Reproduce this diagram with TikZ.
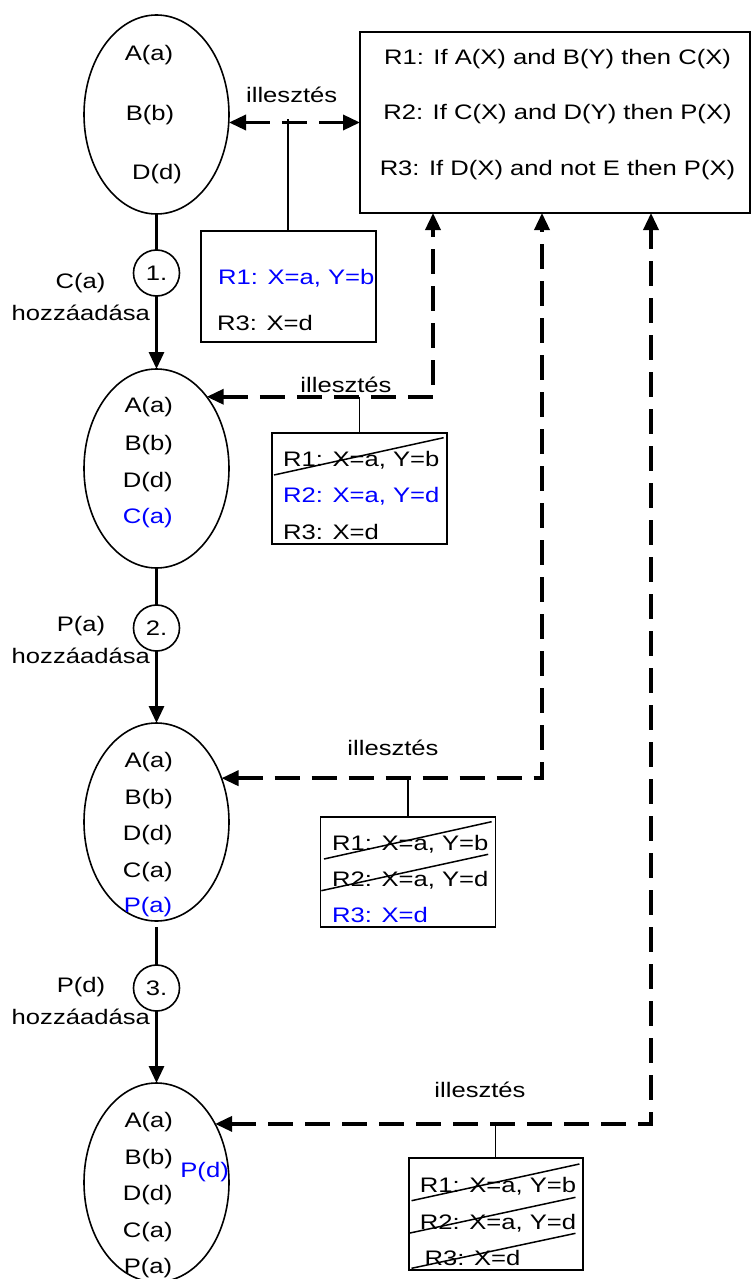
\documentclass[tikz,border=0pt]{standalone}
\usepackage{fontspec}
\setmainfont{Liberation Sans}[FakeStretch=1.22]
\usetikzlibrary{shapes.geometric,arrows.meta}
\begin{document}
\begin{tikzpicture}[x=1pt,y=-1pt,>={Triangle[length=17pt,width=15pt]},
	font=\fontsize{21}{25}\selectfont,
	txt/.style={inner sep=0pt,text height=15pt,text depth=0pt},
	facts/.style={draw,ellipse,line width=1.6pt,minimum width=145pt,minimum height=199pt,inner sep=0pt,outer sep=0pt},
	stepno/.style={draw,circle,line width=1.6pt,minimum size=46pt,inner sep=0pt,outer sep=0pt},
	conflict/.style={draw,line width=1.8pt,minimum width=175pt,inner sep=0pt,outer sep=0pt},
	match/.style={line width=3.5pt,dash pattern=on 25pt off 12pt,<->},
	fire/.style={line width=3pt},
	tick/.style={line width=1.5pt}]
	\useasboundingbox (0,0) rectangle (752,1279);
	\node[facts] (ell1) at (156.5,114.5) {};
	\node[facts] (ell2) at (156.5,468.5) {};
	\node[facts,minimum height=198pt] (ell3) at (156.5,822) {};
	\node[facts] (ell4) at (156.5,1182.5) {};
	\node[stepno] (c1) at (156.5,273) {1.};
	\node[stepno] (c2) at (156.5,628) {2.};
	\node[stepno] (c3) at (156.5,988) {3.};
	\node[draw,line width=1.8pt,minimum width=390pt,minimum height=181pt,outer sep=0pt] (rules) at (555,122.5) {};
	\node[txt] (r1) at (557.5,56.7) {R1: If A(X) and B(Y) then C(X)};
	\node[txt] (r2) at (557.5,112) {R2: If C(X) and D(Y) then P(X)};
	\node[txt] (r3) at (557.5,168) {R3: If D(X) and not E then P(X)};
	\node[conflict,minimum height=111pt] (box1) at (288.2,286.4) {};
	\node[conflict,minimum height=111pt] (box2) at (359.5,488.4) {};
	\node[conflict,minimum height=110pt] (box3) at (407.9,872) {};
	\node[conflict,minimum width=174pt,minimum height=112pt] (box4) at (495.6,1214) {};
	\node[txt,anchor=west,blue] (b1r1) at (218,277) {R1: X=a, Y=b};
	\node[txt,anchor=west] (b1r3) at (217,323) {R3: X=d};
	\node[txt,anchor=west] (b2r1) at (283,459) {R1: X=a, Y=b};
	\node[txt,anchor=west,blue] (b2r2) at (283,495) {R2: X=a, Y=d};
	\node[txt,anchor=west] (b2r3) at (283,532) {R3: X=d};
	\node[txt,anchor=west] (b3r1) at (332,843) {R1: X=a, Y=b};
	\node[txt,anchor=west] (b3r2) at (332,879) {R2: X=a, Y=d};
	\node[txt,anchor=west,blue] (b3r3) at (332,915) {R3: X=d};
	\node[txt,anchor=west] (b4r1) at (419.7,1185) {R1: X=a, Y=b};
	\node[txt,anchor=west] (b4r2) at (419.7,1222) {R2: X=a, Y=d};
	\node[txt,anchor=west] (b4r3) at (424.5,1258) {R3: X=d};
	\draw[tick] (274,475) -- (443.6,437.7);
	\draw[tick] (324,859) -- (491.6,821.7);
	\draw[tick] (321.3,890.7) -- (488.2,854.3);
	\draw[tick] (411.5,1200.7) -- (579.4,1164);
	\draw[tick] (408.6,1233.3) -- (575.5,1197.3);
	\draw[tick] (411.5,1268.3) -- (575.5,1233.3);
	\foreach \f/\x/\y in {{A(a)}/149/53,{B(b)}/150/113,{D(d)}/157/172,
		{A(a)}/148.7/405,{B(b)}/148.7/443,{D(d)}/147.7/480,
		{A(a)}/148.7/760,{B(b)}/148.7/797,{D(d)}/147.7/833,{C(a)}/147.7/870,
		{A(a)}/148.7/1120,{B(b)}/148.7/1157,{D(d)}/147.7/1193,{C(a)}/147.7/1230,{P(a)}/148/1266}
		\node[txt] at (\x,\y) {\f};
	\node[txt,blue] (new2) at (147.7,516) {C(a)};
	\node[txt,blue] (new3) at (148,905) {P(a)};
	\node[txt,blue] (new4) at (204.6,1170) {P(d)};
	\node[txt] (add1) at (80.6,281) {C(a)};
	\node[txt] (hz1) at (80.8,313) {hozzáadása};
	\node[txt] (add2) at (81,624) {P(a)};
	\node[txt] (hz2) at (80.8,656) {hozzáadása};
	\node[txt] (add3) at (81,985) {P(d)};
	\node[txt] (hz3) at (80.8,1017) {hozzáadása};
	\node[txt] (ill1) at (291.7,95) {illesztés};
	\node[txt] (ill2) at (346,385) {illesztés};
	\node[txt] (ill3) at (393,748) {illesztés};
	\node[txt] (ill4) at (480,1090) {illesztés};
	\draw[fire] (ell1.south) -- (c1.north);
	\draw[fire,->] (c1.south) -- (ell2.north);
	\draw[fire] (ell2.south) -- (c2.north);
	\draw[fire,->] (c2.south) -- (ell3.north);
	\draw[fire] ([yshift=-6pt]ell3.south) -- (c3.north);
	\draw[fire,->] (c3.south) -- (ell4.north);
	\draw[match] (ell1.east |- rules.west) -- (rules.west);
	\draw[match] (ell2.55) -| (433,0 |- rules.south);
	\draw[match] (ell3.34) -| (542,0 |- rules.south);
	\draw[match] (ell4.45) -| (651,0 |- rules.south);
	\draw[tick] (box1.north) -- ([yshift=3pt]box1.north |- rules.west);
	\draw[tick] (box2.north) -- (box2.north |- ell2.55);
	\draw[tick] (box3.north) -- (box3.north |- ell3.34);
	\draw[tick] (box4.north) -- (box4.north |- ell4.45);
\end{tikzpicture}
\end{document}
